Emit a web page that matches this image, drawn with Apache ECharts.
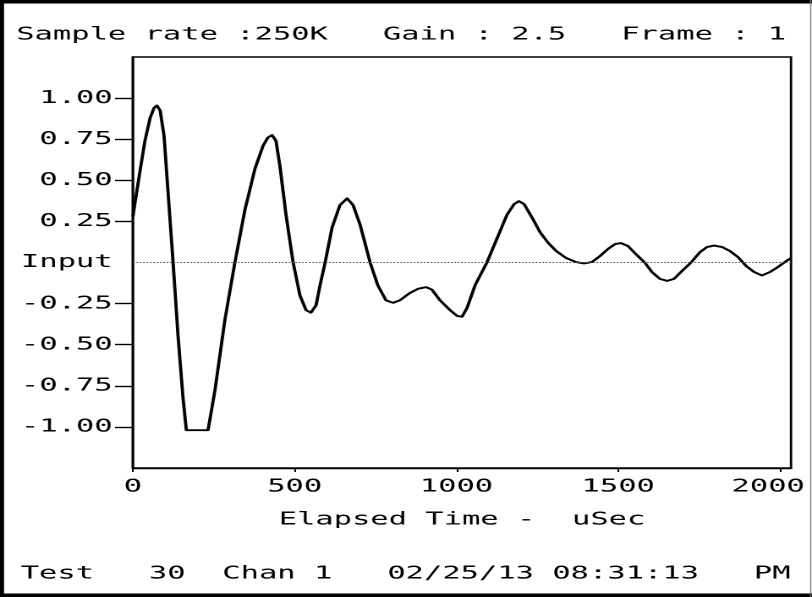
<!DOCTYPE html>
<html>
<head>
<meta charset="utf-8">
<script src="https://cdn.jsdelivr.net/npm/echarts@6/dist/echarts.min.js"></script>
<style>
html,body{margin:0;padding:0;background:#fff;overflow:hidden;}
#wrap{width:812px;height:597px;overflow:hidden;position:relative;background:#fff;}
#chart{width:480px;height:597px;transform:scaleX(1.691667);transform-origin:0 0;}
</style>
</head>
<body>
<div id="wrap"><div id="chart"></div></div>
<script>
// ---- data ----
const timeUs = [0, 6, 22, 37, 53, 65, 74, 84, 96, 108, 124, 139, 155, 165, 232, 254, 284, 315, 346, 377,
  402, 417, 430, 442, 454, 473, 495, 516, 535, 550, 566, 578, 594, 615, 640, 662, 680, 702, 733, 757,
  782, 804, 825, 856, 881, 906, 924, 949, 980, 1002, 1017, 1033, 1057, 1094, 1125, 1156, 1178, 1193, 1209, 1233,
  1258, 1283, 1308, 1339, 1369, 1394, 1419, 1444, 1468, 1490, 1509, 1530, 1555, 1583, 1604, 1629, 1651, 1672, 1697, 1725,
  1753, 1774, 1796, 1821, 1845, 1870, 1895, 1920, 1944, 1969, 1994, 2019, 2034];
const amplitude = [0.28, 0.36, 0.56, 0.74, 0.88, 0.94, 0.955, 0.925, 0.77, 0.44, 0.00, -0.44, -0.83, -1.02, -1.02, -0.77, -0.35, 0.00, 0.32, 0.57,
  0.71, 0.76, 0.775, 0.74, 0.59, 0.29, 0.00, -0.20, -0.29, -0.305, -0.26, -0.14, 0.00, 0.21, 0.35, 0.39, 0.35, 0.23, 0.00, -0.14,
  -0.23, -0.245, -0.23, -0.185, -0.16, -0.15, -0.165, -0.23, -0.29, -0.325, -0.33, -0.275, -0.14, 0.00, 0.145, 0.29, 0.355, 0.373, 0.355, 0.275,
  0.185, 0.12, 0.07, 0.027, 0.003, -0.006, 0.003, 0.04, 0.082, 0.112, 0.118, 0.10, 0.05, -0.003, -0.058, -0.10, -0.112, -0.10, -0.052, 0.00,
  0.064, 0.094, 0.103, 0.094, 0.07, 0.033, -0.021, -0.058, -0.079, -0.058, -0.027, 0.009, 0.027];

const xTickValues = [0, 500, 1000, 1500, 2000];
const yTickValues = [-1, -0.75, -0.5, -0.25, 0.25, 0.5, 0.75, 1];
const yLabelValues = [-1, -0.75, -0.5, -0.25, 0, 0.25, 0.5, 0.75, 1];
const yLabelTexts = ['-1.00', '-0.75', '-0.50', '-0.25', 'Input', '0.25', '0.50', '0.75', '1.00'];

const titleText = 'Sample rate :250K   Gain : 2.5   Frame : 1';
const footerText = 'Test   30  Chan 1   02/25/13 08:31:13   PM';
const xAxisName = 'Elapsed Time -  uSec';

// ---- chart ----
const FONT = 'DejaVu Sans Mono';
const chart = echarts.init(document.getElementById('chart'), null, {devicePixelRatio: 2});
const seriesData = timeUs.map((t, i) => [t, amplitude[i]]);

chart.setOption({
  backgroundColor: '#ffffff',
  animation: false,
  grid: {left: 78.6, right: 12.4, top: 57, bottom: 129, show: true, borderColor: '#000', borderWidth: 1.4, backgroundColor: 'transparent'},
  xAxis: {
    type: 'value', min: 0, max: 2034, interval: 500,
    axisLine: {show: true, onZero: false, lineStyle: {color: '#000', width: 1.4}},
    axisTick: {show: true, customValues: xTickValues, length: 4, lineStyle: {color: '#000', width: 1}},
    axisLabel: {
      customValues: xTickValues, margin: 10, color: '#000', fontFamily: FONT, fontSize: 18,
      formatter: v => v === 2000 ? '{r|2000}' : String(v),
      rich: {r: {padding: [0, 14, 0, 0], color: '#000', fontFamily: FONT, fontSize: 18}}
    },
    splitLine: {show: false},
    name: xAxisName, nameLocation: 'middle', nameGap: 43,
    nameTextStyle: {color: '#000', fontFamily: FONT, fontSize: 18}
  },
  yAxis: {
    type: 'value', min: -1.25, max: 1.25, interval: 0.25,
    axisLine: {show: true, onZero: false, lineStyle: {color: '#000', width: 1.4}},
    axisTick: {show: true, customValues: yTickValues, length: 10.6, lineStyle: {color: '#000', width: 1.4}},
    axisLabel: {
      customValues: yLabelValues, margin: 12, color: '#000', fontFamily: FONT, fontSize: 18,
      formatter: v => {
        const i = yLabelValues.findIndex(x => Math.abs(x - v) < 1e-9);
        return i >= 0 ? yLabelTexts[i] : '';
      }
    },
    splitLine: {show: false}
  },
  series: [{
    type: 'line', data: seriesData, showSymbol: false, smooth: false,
    lineStyle: {color: '#000', width: 1.9, join: 'round'}, clip: true,
    markLine: {
      silent: true, symbol: 'none', label: {show: false},
      lineStyle: {color: '#555', type: 'dotted', width: 1},
      data: [{yAxis: 0}]
    }
  }],
  graphic: [
    {type: 'text', x: 9.6, y: 34.6, style: {text: titleText, fill: '#000', font: '18px "DejaVu Sans Mono"', textVerticalAlign: 'middle'}},
    {type: 'text', x: 12.2, y: 574, style: {text: footerText, fill: '#000', font: '18px "DejaVu Sans Mono"', textVerticalAlign: 'middle'}},
    {type: 'rect', shape: {x: 0, y: 0, width: 480, height: 3.5}, style: {fill: '#000'}, silent: true},
    {type: 'rect', shape: {x: 0, y: 0, width: 2.4, height: 597}, style: {fill: '#000'}, silent: true},
    {type: 'rect', shape: {x: 0, y: 593.5, width: 480, height: 3.5}, style: {fill: '#000'}, silent: true},
    {type: 'rect', shape: {x: 478.9, y: 0, width: 0.7, height: 597}, style: {fill: '#777'}, silent: true}
  ]
});
</script>
</body>
</html>
